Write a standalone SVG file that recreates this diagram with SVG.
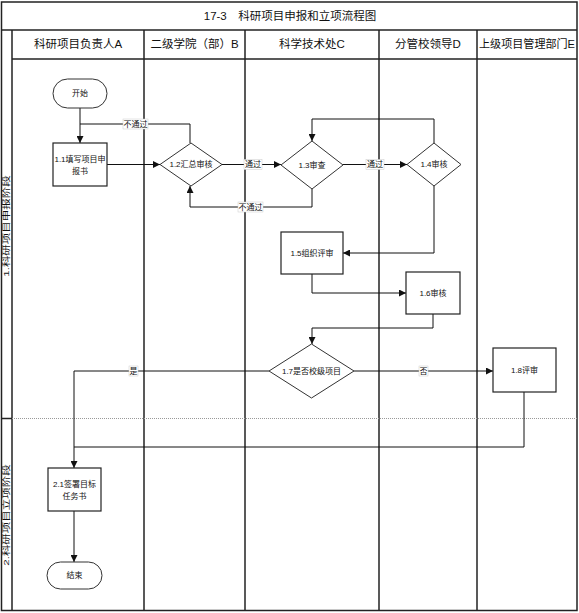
<svg xmlns="http://www.w3.org/2000/svg" width="579" height="613" viewBox="0 0 579 613">
<style>
text{font-family:"Liberation Sans","Noto Sans CJK SC",sans-serif;fill:#111}
.lane{stroke:#222;stroke-width:1.5;fill:none}
.node{fill:#fff;stroke:#333;stroke-width:1}
.box{fill:#fff;stroke:#222;stroke-width:1.2}
.lbl{font-size:8px;text-anchor:middle;dominant-baseline:central}
.hdr{font-size:11.5px;text-anchor:middle;dominant-baseline:central}
.edge{fill:none;stroke:#111;stroke-width:1}
.tag{fill:#fff;stroke:#ccc;stroke-width:0.5}
</style>
<defs>
<marker id="arr" viewBox="0 0 10 10" refX="10" refY="5" markerWidth="7" markerHeight="7" orient="auto" markerUnits="userSpaceOnUse">
<path d="M0,0 L10,5 L0,10 z" fill="#111"/>
</marker>
</defs>
<rect x="0" y="0" width="579" height="613" fill="#fff"/>
<g id="frame">
<rect x="1.5" y="2" width="575.5" height="608.5" class="lane" stroke-width="2"/>
<line x1="1.5" y1="30" x2="577" y2="30" class="lane"/>
<line x1="12" y1="59" x2="577" y2="59" class="lane"/>
<line x1="12" y1="30" x2="12" y2="610" class="lane"/>
<line x1="144" y1="30" x2="144" y2="610" class="lane"/>
<line x1="245" y1="30" x2="245" y2="610" class="lane"/>
<line x1="379" y1="30" x2="379" y2="610" class="lane"/>
<line x1="477" y1="30" x2="477" y2="610" class="lane"/>
<line x1="1.5" y1="418.5" x2="12" y2="418.5" class="lane"/>
<line x1="12" y1="418.5" x2="577" y2="418.5" stroke="#999" stroke-width="1" stroke-dasharray="1,1"/>
<text x="290" y="16" class="hdr" font-size="13">17-3　科研项目申报和立项流程图</text>
<text x="78" y="44" class="hdr">科研项目负责人A</text>
<text x="194.5" y="44" class="hdr">二级学院（部）B</text>
<text x="312" y="44" class="hdr">科学技术处C</text>
<text x="428" y="44" class="hdr">分管校领导D</text>
<text x="527" y="44" class="hdr" textLength="96" lengthAdjust="spacingAndGlyphs">上级项目管理部门E</text>
<text transform="translate(6.5,226) rotate(-90) scale(1,0.7)" class="hdr" font-size="12">1.科研项目申报阶段</text>
<text transform="translate(6.5,515) rotate(-90) scale(1,0.7)" class="hdr" font-size="12">2.科研项目立项阶段</text>
</g>
<g id="edges">
<path d="M80,108 V143" class="edge" marker-end="url(#arr)"/>
<path d="M190,143 V124 H80" class="edge"/>
<path d="M107,164.5 H160" class="edge" marker-end="url(#arr)"/>
<path d="M222,164.5 H281" class="edge" marker-end="url(#arr)"/>
<path d="M312,189 V207 H190 V186" class="edge" marker-end="url(#arr)"/>
<path d="M343,164.5 H407" class="edge" marker-end="url(#arr)"/>
<path d="M434,143 V119 H312 V141" class="edge" marker-end="url(#arr)"/>
<path d="M434,186 V253 H343" class="edge" marker-end="url(#arr)"/>
<path d="M312,274 V293 H406" class="edge" marker-end="url(#arr)"/>
<path d="M433,314 V328 H312 V344" class="edge" marker-end="url(#arr)"/>
<path d="M354,371 H493" class="edge" marker-end="url(#arr)"/>
<path d="M524,392 V447 H74" class="edge"/>
<path d="M269,371 H74 V468" class="edge" marker-end="url(#arr)"/>
<path d="M74,511 V562" class="edge" marker-end="url(#arr)"/>
<rect x="123" y="119" width="25" height="10" class="tag"/>
<text x="135.5" y="124" class="lbl">不通过</text>
<rect x="238" y="202" width="25" height="10" class="tag"/>
<text x="250.5" y="207" class="lbl">不通过</text>
<rect x="244" y="159.5" width="18" height="10" class="tag"/>
<text x="253" y="164.5" class="lbl">通过</text>
<rect x="366" y="159.5" width="18" height="10" class="tag"/>
<text x="375" y="164.5" class="lbl">通过</text>
<rect x="129" y="366" width="9" height="10" class="tag"/>
<text x="133.5" y="371" class="lbl">是</text>
<rect x="419" y="366" width="9" height="10" class="tag"/>
<text x="423.5" y="371" class="lbl">否</text>
</g>
<g id="start">
<rect x="53" y="79" width="54" height="29" rx="14.5" class="node"/>
<text x="80" y="93.5" class="lbl">开始</text>
</g>
<g id="n1_1">
<rect x="53" y="143" width="54" height="43" class="box"/>
<text x="80" y="159" class="lbl">1.1填写项目申</text>
<text x="80" y="171" class="lbl">报书</text>
</g>
<g id="n1_2">
<polygon points="191,143 222,164.5 191,186 160,164.5" class="node"/>
<text x="191" y="164.5" class="lbl">1.2汇总审核</text>
</g>
<g id="n1_3">
<polygon points="312,141 343,165 312,189 281,165" class="node"/>
<text x="312" y="165" class="lbl">1.3审查</text>
</g>
<g id="n1_4">
<polygon points="434,143 461,164.5 434,186 407,164.5" class="node"/>
<text x="434" y="164.5" class="lbl">1.4审核</text>
</g>
<g id="n1_5">
<rect x="281" y="232" width="62" height="42" class="box"/>
<text x="312" y="253" class="lbl">1.5组织评审</text>
</g>
<g id="n1_6">
<rect x="406" y="272" width="54" height="42" class="box"/>
<text x="433" y="293" class="lbl">1.6审核</text>
</g>
<g id="n1_7">
<polygon points="311.5,344 354,371 311.5,398 269,371" class="node"/>
<text x="311.5" y="371" class="lbl">1.7是否校级项目</text>
</g>
<g id="n1_8">
<rect x="493" y="348" width="63" height="44" class="box"/>
<text x="524.5" y="370" class="lbl">1.8评审</text>
</g>
<g id="n2_1">
<rect x="48" y="468" width="53" height="43" class="box"/>
<text x="74.5" y="484" class="lbl">2.1签署目标</text>
<text x="74.5" y="496" class="lbl">任务书</text>
</g>
<g id="end">
<rect x="47" y="562" width="55" height="27" rx="13.5" class="node"/>
<text x="74.5" y="575.5" class="lbl">结束</text>
</g>
</svg>
